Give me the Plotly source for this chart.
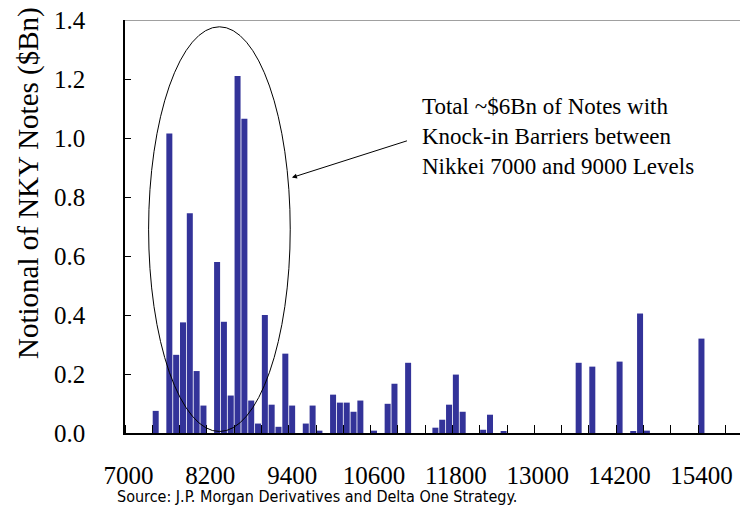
import plotly.graph_objects as go

# Nikkei knock-in barrier levels and notional ($Bn)
levels = [7400, 7600, 7700, 7800, 7900, 8000, 8100,
          8300, 8400, 8500, 8600, 8700, 8800, 8900, 9000, 9100, 9200, 9300, 9400,
          9600, 9700, 9800, 10000, 10100, 10200, 10300, 10400, 10600,
          10800, 10900, 11100, 11500, 11600, 11700, 11800, 11900,
          12200, 12300, 12500, 13600, 13800, 14200, 14400, 14500, 14600, 15400]
notional = [0.075, 1.015, 0.265, 0.375, 0.745, 0.21, 0.093,
            0.58, 0.377, 0.127, 1.21, 1.065, 0.11, 0.032, 0.40, 0.096, 0.021, 0.269, 0.093,
            0.032, 0.093, 0.008, 0.13, 0.103, 0.103, 0.072, 0.11, 0.008,
            0.099, 0.167, 0.238, 0.018, 0.045, 0.096, 0.198, 0.072,
            0.011, 0.062, 0.005, 0.238, 0.225, 0.242, 0.005, 0.405, 0.008, 0.320]

x_tick_vals = [7000, 8200, 9400, 10600, 11800, 13000, 14200, 15400]
x_tick_text = ["7000", "8200", "9400", "10600", "11800", "13000", "14200", "15400"]
y_tick_vals = [0.0, 0.2, 0.4, 0.6, 0.8, 1.0, 1.2, 1.4]

serif = "Liberation Serif, Times New Roman, serif"
W, H = 740, 506
l, r, t, b = 125, 0, 20, 73
pw, ph = W - l - r, H - t - b

fig = go.Figure()
fig.add_trace(go.Bar(x=levels, y=notional, width=88,
                     marker=dict(color="#333399", line=dict(width=0)),
                     hoverinfo="x+y"))

fig.update_layout(
    width=W, height=H,
    margin=dict(l=l, r=r, t=t, b=b),
    paper_bgcolor="white", plot_bgcolor="white",
    showlegend=False,
    font=dict(family=serif, size=22, color="black"),
    xaxis=dict(range=[6950, 15965], tickvals=x_tick_vals, ticktext=x_tick_text,
               ticks="", showgrid=False, zeroline=False,
               showline=True, linecolor="black", linewidth=1.5,
               tickfont=dict(family=serif, size=25, color="black"),
               ticklabelstandoff=19,
               minor=dict(tick0=6950, dtick=400, ticks="inside", ticklen=8,
                          tickcolor="black", tickwidth=1, showgrid=False)),
    yaxis=dict(range=[0, 1.4], tickvals=y_tick_vals, tickformat=".1f",
               ticks="inside", ticklen=6, tickcolor="black", tickwidth=1,
               showgrid=False, zeroline=False,
               showline=True, linecolor="black", linewidth=1.5,
               tickfont=dict(family=serif, size=25, color="black"),
               ticklabelstandoff=33),
)

# top border of plot area (grey)
fig.add_shape(type="line", xref="paper", yref="y", x0=0, x1=1, y0=1.4, y1=1.4,
              line=dict(color="#808080", width=1.5))

# ellipse around the 7000-9000 cluster
fig.add_shape(type="circle", xref="x", yref="y", x0=7296, x1=9372, y0=0.005, y1=1.377,
              line=dict(color="black", width=1))

# arrow
fig.add_annotation(x=9397, y=0.866, ax=11105, ay=0.992, axref="x", ayref="y",
                   xref="x", yref="y", text="", showarrow=True,
                   arrowhead=2, arrowsize=1, arrowwidth=1, arrowcolor="black")

# annotation text
fig.add_annotation(x=11277, y=1.155, xref="x", yref="y", xanchor="left", yanchor="top",
                   text="Total ~$6Bn of Notes with<br>Knock-in Barriers between<br>Nikkei 7000 and 9000 Levels",
                   showarrow=False, align="left",
                   font=dict(family=serif, size=23, color="black"))

# y axis title
fig.add_annotation(x=(28 - l) / pw, y=(H - b - 183) / ph, xref="paper", yref="paper",
                   xanchor="center", yanchor="middle",
                   text="Notional of NKY Notes ($Bn)",
                   showarrow=False, textangle=-90,
                   font=dict(family=serif, size=29, color="black"))

# source
fig.add_annotation(x=(115 - l) / pw, y=(H - b - 508) / ph, xref="paper", yref="paper",
                   text="Source: J.P. Morgan Derivatives and Delta One Strategy.",
                   showarrow=False, xanchor="left", yanchor="bottom",
                   font=dict(family="DejaVu Sans Condensed, DejaVu Sans, sans-serif",
                             size=16, color="black"))

fig.write_html("out.html")
